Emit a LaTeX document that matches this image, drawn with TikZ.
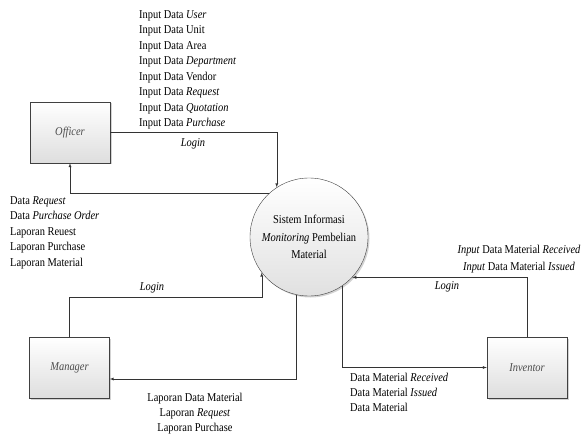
\documentclass[tikz,border=0pt]{standalone}
\usepackage{fontspec}
\setmainfont{Liberation Serif}[FakeStretch=0.87]
\usetikzlibrary{calc,shadows}

\begin{document}
\begin{tikzpicture}[x=1pt,y=-1pt,>=latex,
  ent/.style={draw=black!75,minimum width=80pt,minimum height=61pt,top color=white,bottom color=black!13,
    drop shadow={shadow xshift=1.5pt,shadow yshift=-1.5pt,opacity=0.35},font=\fontsize{12}{15}\selectfont\itshape,text=black!70},
  proc/.style={circle,draw=black!75,minimum size=118pt,inner sep=0pt,align=center,top color=white,bottom color=black!12,
    drop shadow={shadow xshift=1.5pt,shadow yshift=-1.5pt,opacity=0.35},font=\fontsize{12}{17.5}\selectfont},
  lbl/.style={inner sep=0pt,font=\fontsize{12}{15.5}\selectfont},
  flow/.style={draw=black!80,->}]
  \useasboundingbox (0,0) rectangle (582,436);
  \path (70,132.5) node[ent] (off) {Officer} (69.5,368) node[ent] (mgr) {Manager}
  (527,367.5) node[ent] (inv) {Inventor}
  (309,237) node[proc] (sys) {Sistem Informasi\\\textit{Monitoring} Pembelian\\Material};
  \draw[flow] (off.east) -| (sys.123);
  \draw[flow] (sys.132) -| (off.south);
  \draw[flow] (mgr.north) -- (mgr.north |- 0,297) -| (sys.217);
  \draw[flow] (sys.258) |- ($(mgr.east)+(0,11)$);
  \draw[flow] (inv.north) |- (sys.-43);
  \draw[flow] (sys.-56) |- (inv.west);
  \node[lbl,anchor=north west,align=left] (tin) at (139,10) {Input Data \textit{User}\\Input Data Unit\\Input Data Area\\
    Input Data \textit{Department}\\Input Data Vendor\\Input Data \textit{Request}\\Input Data \textit{Quotation}\\Input Data \textit{Purchase}};
  \node[lbl,font=\fontsize{12}{15}\selectfont\itshape] (lg1) at (193,144) {Login};
  \node[lbl,anchor=north west,align=left] (tout) at (10,196) {Data \textit{Request}\\Data \textit{Purchase Order}\\Laporan Reuest\\
    Laporan Purchase\\Laporan Material};
  \node[lbl,font=\fontsize{12}{15}\selectfont\itshape] (lg2) at (152,288) {Login};
  \node[lbl,anchor=north,align=center,font=\fontsize{12}{15}\selectfont] (mout) at (195,393) {Laporan Data Material\\
    Laporan \textit{Request}\\Laporan Purchase};
  \node[lbl,anchor=north,align=center,font=\fontsize{12}{17}\selectfont] (iin) at (519,245) {\textit{Input} Data Material \textit{Received}\\
    \textit{Input} Data Material \textit{Issued}};
  \node[lbl,font=\fontsize{12}{15}\selectfont\itshape] (lg3) at (447,287) {Login};
  \node[lbl,anchor=north west,align=left,font=\fontsize{12}{15}\selectfont] (iout) at (350,373) {Data Material \textit{Received}\\
    Data Material \textit{Issued}\\Data Material};
\end{tikzpicture}
\end{document}
